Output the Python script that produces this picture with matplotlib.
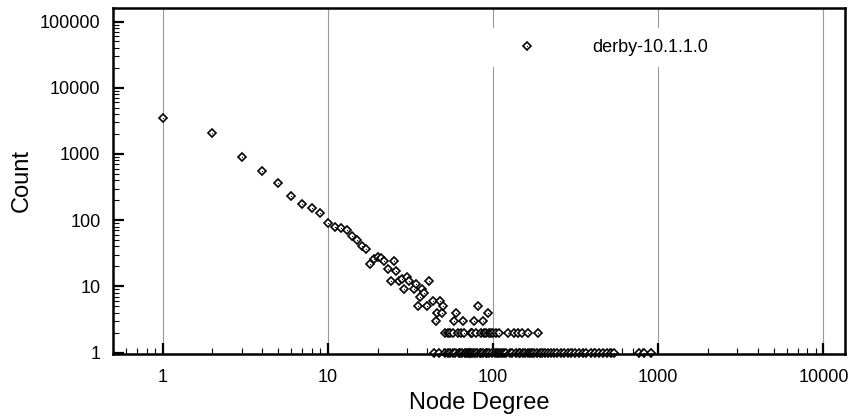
import matplotlib
matplotlib.use('Agg')
import matplotlib.pyplot as plt
from matplotlib.ticker import FixedLocator, FuncFormatter, LogLocator, NullFormatter
from matplotlib.legend_handler import HandlerTuple

plt.rcParams['font.family'] = ['Liberation Sans', 'DejaVu Sans']

# degree -> count for the upper part of the distribution
deg_head = [1, 2, 3, 4, 5, 6, 7, 8, 9, 10, 11, 12, 13, 14, 15, 16, 17, 18, 19, 20,
            21, 22, 23, 24, 25, 26, 27, 28, 29, 30, 31, 33, 34, 35, 36, 37, 38, 40,
            41, 43, 45, 46, 48, 49, 50, 58, 60, 66, 77, 81, 87, 93]
cnt_head = [3500, 2100, 900, 550, 360, 235, 175, 150, 127, 92, 78, 77, 71, 58, 50, 40, 36, 22, 26, 28,
            27, 24, 18, 12, 24, 17, 12, 13, 9, 14, 12, 9, 11, 5, 7, 9, 8, 5,
            12, 6, 3, 4, 6, 4, 5, 3, 4, 3, 3, 5, 3, 4]

# degrees that occur exactly twice
deg_two = [51, 53, 55, 57, 61, 64, 67, 73, 75, 79, 85, 88, 91, 95, 97, 100, 104, 108,
           123, 133, 142, 150, 162, 187]

# degrees that occur once
deg_one = [44, 47, 51, 53, 55, 57, 59, 62, 63, 65, 68, 69, 70, 71, 72, 74, 76, 78, 80, 83,
           84, 87, 90, 92, 94, 99, 102, 105, 107, 110, 113, 117, 120, 126, 131, 137, 143,
           145, 151, 156, 163, 168, 172, 178, 185, 192, 199, 206, 215, 224, 233, 243, 258,
           270, 283, 298, 313, 330, 348, 366, 389, 412, 436, 461, 490, 515, 540, 760, 820, 900]

x = deg_head + deg_two + deg_one
y = cnt_head + [2] * len(deg_two) + [1] * len(deg_one)

fig = plt.figure(figsize=(8.51, 4.18), dpi=100)
ax = fig.add_axes([113 / 851, 64 / 418, 732 / 851, 346 / 418])

ax.set_xscale('log')
ax.set_yscale('log')
ax.set_xlim(0.5, 13500)
ax.set_ylim(0.95, 160000)

h1, = ax.plot(x, y, ls='none', marker='D', ms=4.0, mfc='white', mec='black',
              mew=1.2, clip_on=False, zorder=3)
h2, = ax.plot(x, y, ls='none', marker='o', ms=0.9, mfc='black', mec='black',
              mew=0, clip_on=False, zorder=4)

# vertical grid at decades only
for xv in [1, 10, 100, 1000, 10000]:
    ax.axvline(xv, color='#9a9a9a', lw=0.8, zorder=1)

ax.xaxis.set_major_locator(FixedLocator([1, 10, 100, 1000, 10000]))
ax.yaxis.set_major_locator(FixedLocator([1, 10, 100, 1000, 10000, 100000]))
ax.xaxis.set_minor_locator(LogLocator(base=10, subs=range(2, 10), numticks=20))
ax.yaxis.set_minor_locator(LogLocator(base=10, subs=range(2, 10), numticks=20))
fmt = FuncFormatter(lambda v, p: '%d' % round(v))
ax.xaxis.set_major_formatter(fmt)
ax.yaxis.set_major_formatter(fmt)
ax.xaxis.set_minor_formatter(NullFormatter())
ax.yaxis.set_minor_formatter(NullFormatter())

ax.tick_params(which='major', direction='in', length=8, width=1.6, labelsize=13,
               top=False, right=False, color='black')
ax.tick_params(which='minor', direction='in', length=4, width=0.8,
               top=False, right=False, color='black')
ax.tick_params(axis='x', which='major', pad=11)
ax.tick_params(axis='y', which='major', pad=9)

for s in ax.spines.values():
    s.set_linewidth(1.8)
    s.set_zorder(5)

ax.set_xlabel('Node Degree', fontsize=17, labelpad=4)
ax.set_ylabel('Count', fontsize=17, labelpad=5)

leg = ax.legend([(h1, h2)], ['derby-10.1.1.0'], handler_map={tuple: HandlerTuple(ndivide=1, pad=0)},
                loc='upper left', bbox_to_anchor=((489 - 113) / 732, 1 - 20 / 346),
                borderaxespad=0, borderpad=0.6, handlelength=3, handletextpad=2.1,
                fontsize=13, frameon=True, fancybox=False, framealpha=1,
                facecolor='white', edgecolor='none', numpoints=1)
leg.set_zorder(6)

fig.savefig('out.png', dpi=100, facecolor='white')
